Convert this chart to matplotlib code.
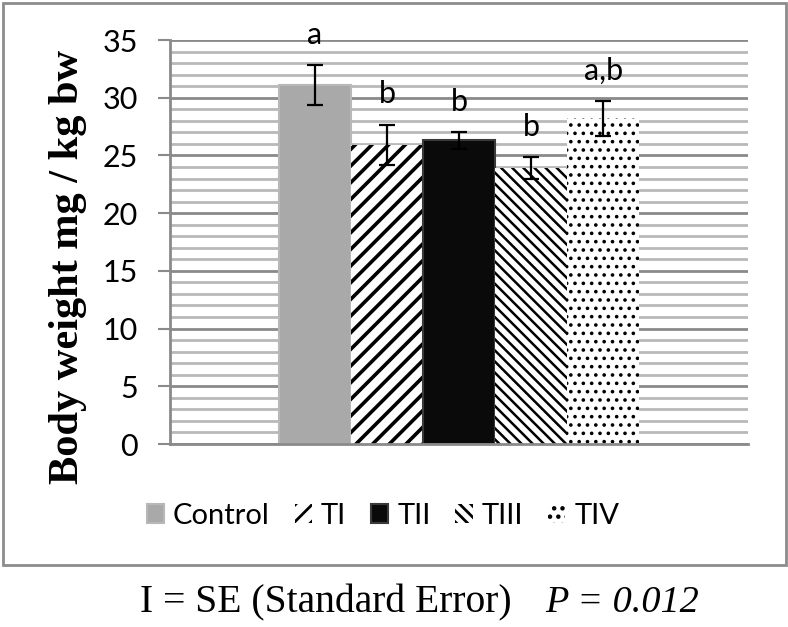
import matplotlib.pyplot as plt
from matplotlib.patches import Rectangle
from matplotlib.ticker import MultipleLocator
import numpy as np

# data
groups = ['Control', 'TI', 'TII', 'TIII', 'TIV']
means = [31.1, 25.9, 26.3, 23.9, 28.2]
se = [1.7, 1.75, 0.7, 0.95, 1.5]
letters = ['a', 'b', 'b', 'b', 'a,b']
yticks = [0, 5, 10, 15, 20, 25, 30, 35]

# bar styles
faces = ['#a9a9a9', 'white', '#0a0a0a', 'white', 'white']
edges = ['#b8b8b8', 'black', '#3a3a3a', 'black', 'black']
hatches = [None, '//', None, '\\\\\\', '..']
hatch_lw = [1.0, 2.6, 1.0, 1.8, 1.4]
edge_lw = [1.5, 0, 1.5, 0, 0]

sans = 'Lato'
serif = 'Liberation Serif'

fig = plt.figure(figsize=(7.88, 6.27), dpi=100)
ax = fig.add_axes([170/788, 1-444/627, (748-170)/788, (444-40)/627])

x = np.arange(len(groups)) - 2.0
bars = []
for i in range(len(groups)):
    plt.rcParams['hatch.linewidth'] = hatch_lw[i]
    b = ax.bar(x[i], means[i], width=1.0, color=faces[i], edgecolor=edges[i],
               linewidth=edge_lw[i], hatch=hatches[i], label=groups[i], zorder=2)
    for p in b.patches:
        if hasattr(p, 'set_hatch_linewidth'):
            p.set_hatch_linewidth(hatch_lw[i])
    bars.append(b)
plt.rcParams['hatch.linewidth'] = 2.0

ax.errorbar(x, means, yerr=se, fmt='none', ecolor='black', elinewidth=1.6,
            capsize=5.5, capthick=1.6, zorder=3)

# significance letters
for i in range(len(groups)):
    ax.text(x[i], means[i] + se[i] + 1.85, letters[i], ha='center', va='baseline',
            fontsize=22, family=sans, zorder=4)

# axes
ax.set_xlim(-4.01, 4.01)
ax.set_ylim(0, 35)
ax.set_yticks(yticks)
ax.set_yticklabels([str(v) for v in yticks], fontsize=22, family=sans)
ax.yaxis.set_minor_locator(MultipleLocator(1))
ax.set_xticks([])
ax.set_axisbelow(True)
ax.grid(axis='y', which='major', color='#8a8a8a', linewidth=2)
ax.grid(axis='y', which='minor', color='#b9b9b9', linewidth=2)
ax.tick_params(axis='y', which='major', length=9, width=1.5, color='#8a8a8a', pad=14)
ax.tick_params(axis='y', which='minor', length=0)
for s in ['top', 'right']:
    ax.spines[s].set_visible(False)
ax.spines['left'].set_color('#8a8a8a')
ax.spines['left'].set_linewidth(2)
ax.spines['bottom'].set_color('#8a8a8a')
ax.spines['bottom'].set_linewidth(2)

fig.text(68/788, 1-267/627, 'Body weight mg / kg bw', fontsize=30.5, family=serif,
         fontweight='bold', rotation=90, ha='center', va='center')

# legend
leg = fig.legend(handles=[b.patches[0] for b in bars], labels=groups,
                 loc='center', bbox_to_anchor=(383/788, 1-516/627), ncol=5,
                 frameon=False, prop={'family': sans, 'size': 21},
                 handlelength=0.6, handleheight=0.6, handletextpad=0.3,
                 columnspacing=0.85)

# frame around chart area
fig.patches.append(Rectangle((3/788, 1-565/627), 783/788, 562/627,
                             transform=fig.transFigure, fill=False,
                             edgecolor='#8c8c8c', linewidth=2))

# footnote
fig.text(140/788, 1-603/627, 'I = SE (Standard Error)', fontsize=28.5,
         family=serif, ha='left', va='center')
fig.text(545/788, 1-603/627, 'P = 0.012', fontsize=27.5, family=serif,
         style='italic', ha='left', va='center')

fig.savefig('out.png', dpi=100)
